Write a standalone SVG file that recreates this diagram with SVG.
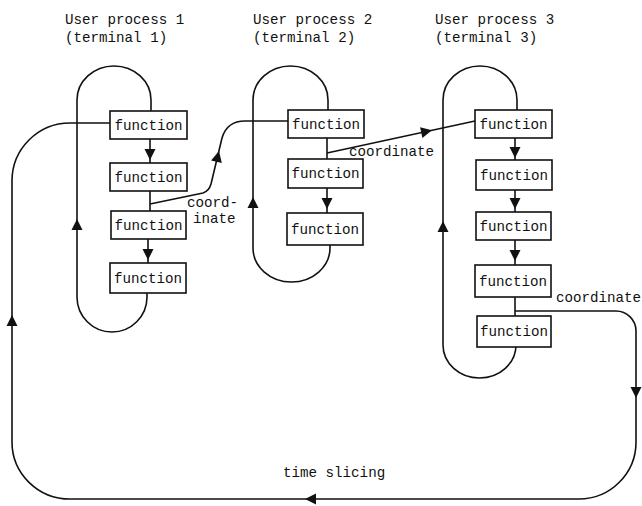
<svg xmlns="http://www.w3.org/2000/svg" xmlns:xlink="http://www.w3.org/1999/xlink" width="642" height="506" viewBox="0 0 642 506">
  <style>
    .bg { fill: #ffffff; }
    .box { fill: #ffffff; stroke: #111111; stroke-width: 1.6; }
    .line { fill: none; stroke: #111111; stroke-width: 1.6; stroke-linejoin: round; }
    .head { fill: #111111; }
    text { font-family: "Liberation Mono", "Courier New", monospace; font-size: 14.2px; fill: #111111; }
    .fn { text-anchor: middle; }
  </style>
  <defs>
    <!-- filled arrowhead pointing along +x, tip at origin -->
    <path id="ah" class="head" d="M0,0 L-11,-5.5 L-11,5.5 Z"/>
  </defs>

  <rect class="bg" x="0" y="0" width="642" height="506"/>

  <!-- process titles -->
  <g id="title-1">
    <text x="65" y="24">User process 1</text>
    <text x="65" y="42">(terminal 1)</text>
  </g>
  <g id="title-2">
    <text x="253" y="24">User process 2</text>
    <text x="253" y="42">(terminal 2)</text>
  </g>
  <g id="title-3">
    <text x="435" y="24">User process 3</text>
    <text x="435" y="42">(terminal 3)</text>
  </g>

  <!-- connectors -->
  <g id="connectors">
    <!-- process loops -->
    <path class="line" d="M151,111 L151,100 A37,34 0 0 0 77,100 L77,297 A35,35 0 0 0 147,297 L147,293"/>
    <path class="line" d="M328,110 L328,100 A37.5,34 0 0 0 253,100 L253,248 A38.5,34 0 0 0 330,248 L330,245"/>
    <path class="line" d="M517,110 L517,100 A37,34 0 0 0 443,100 L443,345 A36.5,33 0 0 0 516,345 L516,347"/>

    <!-- steps inside process 1 -->
    <path class="line" d="M150,139 L150,163"/>
    <path class="line" d="M150,191 L150,211"/>
    <path class="line" d="M148,239 L148,263"/>
    <!-- steps inside process 2 -->
    <path class="line" d="M327,138 L327,159"/>
    <path class="line" d="M327,188 L327,213"/>
    <!-- steps inside process 3 -->
    <path class="line" d="M515,138 L515,160"/>
    <path class="line" d="M515,190 L515,212"/>
    <path class="line" d="M515,240 L515,265"/>
    <path class="line" d="M515,297 L515,316"/>

    <!-- coordinate: process 1 to process 2 -->
    <path class="line" d="M150,204 L203,193 Q209,191 211,184 L222,138 Q227,121 245,121 L288,121"/>
    <!-- coordinate: process 2 to process 3 -->
    <path class="line" d="M327,153 L475,121"/>
    <!-- time slicing loop: process 3 back round to process 1 -->
    <path class="line" d="M515,311 L616,311 A20,20 0 0 1 636,331 L636,442 A57,57 0 0 1 579,499 L70,499 A58,57 0 0 1 12,442 L12,181 A58,58 0 0 1 70,123 L110,123"/>

    <!-- arrowheads -->
    <use xlink:href="#ah" transform="translate(150,160) rotate(90)"/>
    <use xlink:href="#ah" transform="translate(148,260) rotate(90)"/>
    <use xlink:href="#ah" transform="translate(77,219) rotate(-90)"/>
    <use xlink:href="#ah" transform="translate(327,209) rotate(90)"/>
    <use xlink:href="#ah" transform="translate(253,197) rotate(-90)"/>
    <use xlink:href="#ah" transform="translate(515,158) rotate(90)"/>
    <use xlink:href="#ah" transform="translate(515,209) rotate(90)"/>
    <use xlink:href="#ah" transform="translate(515,261) rotate(90)"/>
    <use xlink:href="#ah" transform="translate(443,221) rotate(-90)"/>
    <use xlink:href="#ah" transform="translate(219,151) rotate(-76.6)"/>
    <use xlink:href="#ah" transform="translate(432,130.3) rotate(-12.2)"/>
    <use xlink:href="#ah" transform="translate(12,315) rotate(-90)"/>
    <use xlink:href="#ah" transform="translate(636,398) rotate(90)"/>
    <use xlink:href="#ah" transform="translate(305,499) rotate(180)"/>
  </g>

  <!-- connector labels -->
  <g id="labels">
    <text x="187" y="207">coord-</text>
    <text x="193" y="223">inate</text>
    <text x="349" y="156">coordinate</text>
    <text x="556" y="302">coordinate</text>
    <text x="283" y="477">time slicing</text>
  </g>

  <!-- process 1 functions -->
  <g id="p1-f1"><rect class="box" x="110" y="111" width="77" height="28"/><text class="fn" x="148.5" y="130">function</text></g>
  <g id="p1-f2"><rect class="box" x="110" y="163" width="77" height="28"/><text class="fn" x="148.5" y="182">function</text></g>
  <g id="p1-f3"><rect class="box" x="111" y="211" width="75" height="28"/><text class="fn" x="148.5" y="230">function</text></g>
  <g id="p1-f4"><rect class="box" x="110" y="263" width="76" height="30"/><text class="fn" x="148" y="283">function</text></g>

  <!-- process 2 functions -->
  <g id="p2-f1"><rect class="box" x="288" y="110" width="76" height="28"/><text class="fn" x="326" y="129">function</text></g>
  <g id="p2-f2"><rect class="box" x="288" y="159" width="75" height="29"/><text class="fn" x="325.5" y="178">function</text></g>
  <g id="p2-f3"><rect class="box" x="287" y="213" width="76" height="32"/><text class="fn" x="325" y="234">function</text></g>

  <!-- process 3 functions -->
  <g id="p3-f1"><rect class="box" x="475" y="110" width="77" height="28"/><text class="fn" x="513.5" y="129">function</text></g>
  <g id="p3-f2"><rect class="box" x="476" y="160" width="76" height="30"/><text class="fn" x="514" y="180">function</text></g>
  <g id="p3-f3"><rect class="box" x="476" y="212" width="75" height="28"/><text class="fn" x="513.5" y="231">function</text></g>
  <g id="p3-f4"><rect class="box" x="475" y="265" width="76" height="32"/><text class="fn" x="513" y="286">function</text></g>
  <g id="p3-f5"><rect class="box" x="477" y="316" width="74" height="31"/><text class="fn" x="514" y="336">function</text></g>
</svg>
